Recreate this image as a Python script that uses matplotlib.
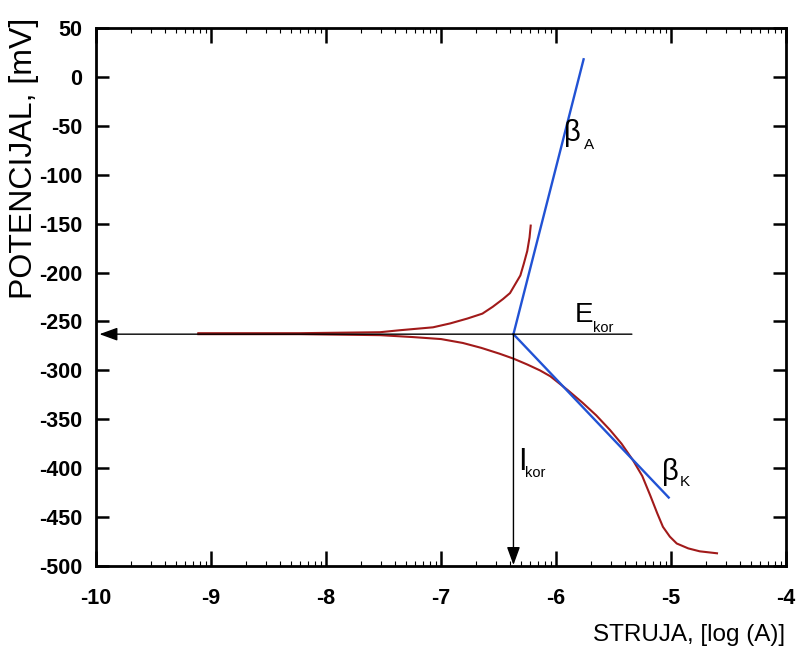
import numpy as np
import matplotlib
matplotlib.use("Agg")
import matplotlib.pyplot as plt
from matplotlib.ticker import FixedLocator, MultipleLocator

plt.rcParams['font.family'] = ['Liberation Sans', 'DejaVu Sans']
plt.rcParams['axes.unicode_minus'] = False

# polarisation curve
anodic_x = [-9.11, -8.23, -7.53, -7.36, -7.07, -6.92, -6.77, -6.64, -6.55, -6.46,
            -6.40, -6.36, -6.31, -6.28, -6.25, -6.23, -6.22]
anodic_y = [-262, -262, -261, -259, -256, -252, -247, -242, -235, -227,
            -221, -213, -203, -191, -178, -164, -152]

cathodic_x = [-9.11, -8.23, -7.53, -7.24, -7.00, -6.81, -6.65, -6.49, -6.37, -6.25,
              -6.14, -6.05, -5.90, -5.77, -5.65, -5.53, -5.43, -5.33, -5.25, -5.18,
              -5.12, -5.07, -5.01, -4.95, -4.85, -4.75, -4.60]
cathodic_y = [-263, -263, -264, -266, -268, -272, -277, -283, -288, -294,
              -300, -306, -320, -333, -346, -361, -375, -392, -408, -428,
              -446, -460, -470, -477, -482, -485, -487]

# Tafel construction
e_kor = -263
i_kor = -6.37
beta_a_end = (-5.76, 18)
beta_k_end = (-5.02, -430)
e_line_x = (-5.34, -9.97)

fig = plt.figure(figsize=(7.96, 6.46), dpi=100)
ax = fig.add_axes([96 / 796, 80 / 646, 690 / 796, 538 / 646])

red = '#a11a1a'
blue = '#2152d4'

ax.plot(anodic_x, anodic_y, color=red, lw=1.5)
ax.plot(cathodic_x, cathodic_y, color=red, lw=1.5)

ax.plot([i_kor, beta_a_end[0]], [e_kor, beta_a_end[1]], color=blue, lw=1.7)
ax.plot([i_kor, beta_k_end[0]], [e_kor, beta_k_end[1]], color=blue, lw=1.7)

arrow = dict(arrowstyle='-|>,head_length=1.1,head_width=0.4', color='black',
             lw=1.0, mutation_scale=10, shrinkA=0, shrinkB=0)
ax.annotate('', xy=(e_line_x[1], e_kor), xytext=(e_line_x[0], e_kor), arrowprops=arrow)
ax.annotate('', xy=(i_kor, -499), xytext=(i_kor, e_kor), arrowprops=arrow)

# labels
ax.text(-5.835, -251, 'E', fontsize=20, va='baseline')
ax.text(-5.68, -261, 'kor', fontsize=10.5, va='baseline')
ax.text(-5.93, -66, 'β', fontsize=21, va='baseline')
ax.text(-5.76, -74, 'A', fontsize=11, va='baseline')
ax.text(-5.078, -412, 'β', fontsize=21, va='baseline')
ax.text(-4.925, -418, 'K', fontsize=11, va='baseline')
ax.text(-6.33, -402, 'I', fontsize=22, va='baseline')
ax.text(-6.27, -409, 'kor', fontsize=10.5, va='baseline')

ax.set_xlim(-10, -4)
ax.set_ylim(-500, 50)
ax.xaxis.set_major_locator(MultipleLocator(1))
ax.yaxis.set_major_locator(MultipleLocator(50))
minor = [d + np.log10(k) for d in range(-10, -4) for k in range(2, 10)]
ax.xaxis.set_minor_locator(FixedLocator(minor))

ax.tick_params(axis='x', which='major', direction='in', length=10.5, width=1.8,
               top=True, pad=16, labelsize=15.5)
ax.tick_params(axis='x', which='minor', direction='in', length=3.6, width=0.8, top=True)
ax.tick_params(axis='y', which='major', direction='in', length=9.5, width=1.8,
               right=True, pad=10, labelsize=15.5)
for lab in ax.get_xticklabels() + ax.get_yticklabels():
    lab.set_fontweight('bold')
for s in ax.spines.values():
    s.set_linewidth(2)

fig.text(24 / 796, 1 - 158 / 646, 'POTENCIJAL, [mV]', rotation=90,
         ha='center', va='center', fontsize=23)
fig.text(785 / 796, 5 / 646, 'STRUJA, [log (A)]', ha='right', va='baseline', fontsize=17.5)

fig.savefig('out.png', dpi=100)
